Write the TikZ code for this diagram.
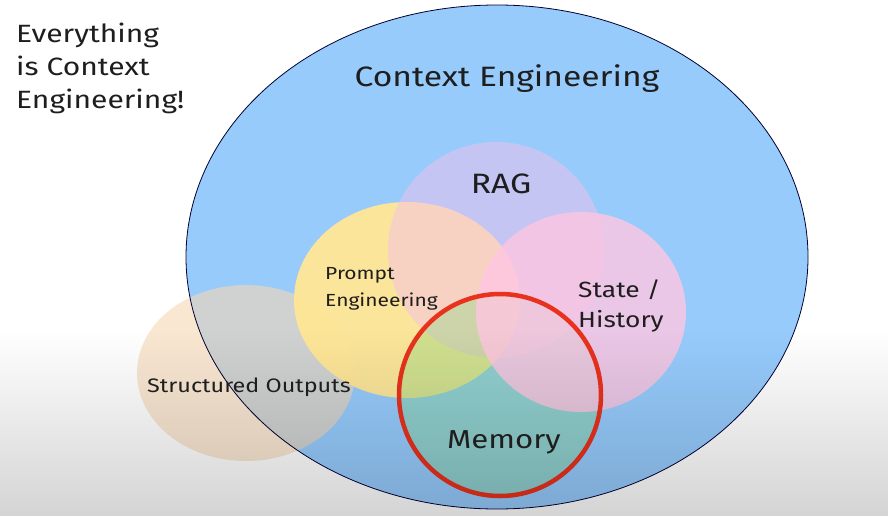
\documentclass[tikz,border=0pt]{standalone}
\usepackage{fontspec}
\setmainfont[FakeStretch=1.2]{Fira Sans}
\usepackage{xcolor}
\definecolor{ctxblue}{HTML}{96CBFC}
\definecolor{ragviolet}{HTML}{F4C0EC}
\definecolor{promptyellow}{HTML}{FFE697}
\definecolor{statepink}{HTML}{FFC6E1}
\definecolor{memgreen}{HTML}{82D97B}
\definecolor{outpeach}{HTML}{F5D7B4}
\definecolor{memred}{HTML}{E8321E}
\definecolor{inkgrey}{HTML}{1E1E1E}
\usepackage{tikz}
\usetikzlibrary{fadings}
\tikzfading[name=fade down, top color=transparent!100, bottom color=transparent!0]
\tikzset{%
    topic/.style={%
        text=inkgrey, inner sep=0,
    },
    bubble/.style={%
        fill=#1, draw=none,
    },
    ring/.style={%
        draw=memred, line width=4.5,
    },
}

\begin{document}
\begin{tikzpicture}[
        x=1pt, y=-1pt,
        ctxline/.style={draw=black!80!blue, line width=0.8},
        huge/.style={topic, font=\fontsize{28}{32}\selectfont},
        big/.style={topic, font=\fontsize{22}{30}\selectfont, align=left},
        small/.style={topic, font=\fontsize{17.5}{27}\selectfont, align=left},
    ]
        \def\cx{497}
        \def\cy{257}

        \fill [white] (0,0) rectangle (890,516);
        \useasboundingbox (0,0) rectangle (890,516);

        % the big context ellipse and the topics on it
        \fill [bubble=ctxblue] (\cx,\cy) ellipse (311 and 252);
        \fill [bubble=outpeach, fill opacity=0.6] (246,373) ellipse (109 and 88);
        \fill [bubble=promptyellow, fill opacity=0.97] (407,300) ellipse (113 and 98);
        \fill [bubble=ragviolet, fill opacity=0.5] (496,250) ellipse (108 and 108);
        \fill [bubble=memgreen, fill opacity=0.35] (500,395) ellipse (103 and 103);
        \fill [bubble=statepink, fill opacity=0.8] (581,312) ellipse (105 and 100);

        \draw [ctxline] (\cx,\cy) ellipse (311 and 252);
        \draw [ring] (500,395) ellipse (101 and 101);

        % lower part of the slide gets darker
        \fill [black, fill opacity=0.17, path fading=fade down] (0,330) rectangle (890,516);

        \node[topic, font=\fontsize{25}{33}\selectfont, align=left, anchor=base west] (slogan) at (16,108) {Everything\\is Context\\Engineering!};
        \node[huge, anchor=base] (context) at (507,87) {Context Engineering};
        \node[huge, anchor=base] (rag) at (501,193) {RAG};
        \node[small, anchor=base west] (prompt) at (325,306) {Prompt\\Engineering};
        \node[big, anchor=base west] (state) at (578,327) {State /\\History};
        \node[topic, font=\fontsize{19.5}{26}\selectfont, anchor=base west] (outputs) at (147,392) {Structured Outputs};
        \node[topic, font=\fontsize{26}{34}\selectfont, anchor=base] (memory) at (504,448) {Memory};
\end{tikzpicture}
\end{document}
